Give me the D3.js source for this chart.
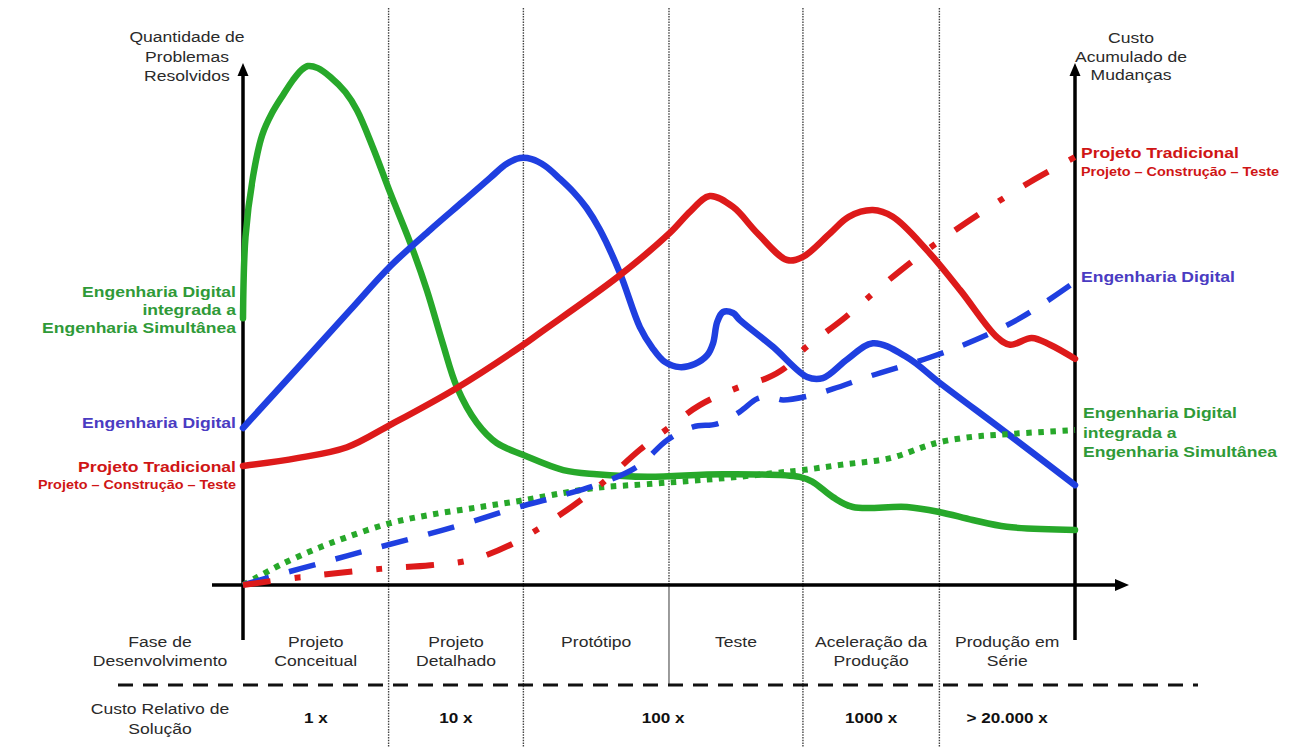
<!DOCTYPE html>
<html><head><meta charset="utf-8">
<script src="https://cdn.jsdelivr.net/npm/d3@7"></script>
<style>body{margin:0;background:#fff}svg{display:block}</style>
</head><body><svg id="c" width="1305" height="747"></svg>
<script>
// ---- DATA (x: development progress 0..100, y: relative level 0..100) ----
const phaseNames = [["Projeto","Conceitual"],["Projeto","Detalhado"],["Protótipo"],["Teste"],["Aceleração da","Produção"],["Produção em","Série"]];
const phaseBounds = [0, 17.5, 33.7, 51.2, 67.3, 83.7, 100];
const costLabels = ["1 x", "10 x", "100 x", "1000 x", "> 20.000 x"];
const costBounds = [0, 17.5, 33.7, 67.3, 83.7, 100];

// Quantidade de problemas resolvidos (solid curves)
const problemsSimultanea = [[0,51.3],[0.3,66.9],[1.2,78.5],[2.3,86.5],[3.5,90.8],[4.8,94.2],[6.0,97.1],[7.0,99.0],[7.8,99.8],[9.0,99.4],[10.5,97.7],[12.3,94.8],[13.7,91.3],[15.6,84.2],[17.7,75.4],[20.1,65.8],[22.1,56.7],[24.0,46.5],[25.7,38.1],[28.1,31.2],[30.5,27.3],[33.7,25.0],[38.5,22.1],[42.5,21.3],[48.6,20.8],[57.7,21.3],[66.9,20.8],[68.5,19.8],[70.9,16.9],[73.3,15.0],[79.8,15.0],[83.8,14.0],[87.7,12.5],[91.8,11.2],[100,10.6]];
const problemsDigital = [[0,30.2],[6.9,42.3],[12.9,52.9],[17.7,61.3],[22.5,68.3],[26.4,73.7],[29.7,78.3],[31.7,81.0],[33.3,82.1],[34.7,81.9],[36.3,80.6],[38.1,78.1],[39.7,75.6],[41.3,72.5],[42.9,68.3],[45.3,60.0],[47.7,49.6],[49.2,45.6],[50.7,42.9],[52.5,41.9],[54.3,42.5],[55.8,44.2],[56.5,46.5],[57.0,50.6],[57.7,52.5],[58.9,52.3],[59.7,51.0],[63.7,45.8],[67.8,40.0],[69.7,39.8],[72.7,43.5],[75.7,46.5],[79.8,43.8],[83.8,38.8],[91.8,29.2],[100,19.2]];
const problemsTradicional = [[0,22.9],[6.5,24.4],[12.5,26.5],[17.7,30.8],[25.7,37.9],[33.7,46.2],[35.7,48.5],[45.0,59.2],[51.3,67.7],[53.8,71.9],[56.1,74.8],[58.9,72.7],[61.8,67.7],[65.4,62.5],[67.3,63.1],[70.6,67.7],[72.8,70.8],[75.7,72.1],[78.1,70.8],[82.2,64.4],[86.2,56.7],[90.6,47.7],[92.2,46.2],[94.8,47.5],[97.0,46.2],[100,43.5]];

// Custo acumulado de mudanças (broken curves)
const costTradicional = [[0,0],[6.9,1.5],[16.5,3.1],[22.5,3.8],[27.3,4.8],[32.1,7.7],[38.1,13.5],[42.9,19.2],[47.7,26.0],[51.3,30.4],[54.9,34.6],[59.7,38.1],[63.0,39.8],[65.1,41.7],[67.3,45.2],[72.4,51.5],[76.9,57.7],[82.2,64.4],[89.2,72.1],[94.6,77.5],[100,82.3]];
const costDigital = [[0,0],[3.2,1.5],[9.3,4.2],[15.0,6.7],[20.9,9.2],[26.9,11.9],[32.7,14.8],[38.5,17.3],[44.1,20.2],[47.7,23.1],[51.0,27.9],[54.1,30.4],[57.0,31.0],[59.7,33.3],[61.8,35.8],[63.3,36.2],[64.9,35.6],[67.8,36.3],[70.9,37.7],[75.4,40.2],[82.6,43.8],[88.0,47.1],[93.6,51.5],[100,58.3]];
const costSimultanea = [[0,0],[1.7,1.5],[4.4,3.8],[8.4,6.7],[12.5,9.2],[17.7,11.9],[22.5,13.5],[28.5,15.0],[33.7,16.3],[38.5,17.7],[42.5,18.7],[48.6,19.4],[58.2,20.6],[63.7,21.5],[67.3,22.1],[71.8,23.1],[77.8,24.4],[81.7,26.5],[83.8,27.5],[87.7,28.5],[91.8,29.0],[100,29.8]];

// ---- DRAWING ----
const svg = d3.select("#c");
const x = d3.scaleLinear().domain([0,100]).range([243,1075]);
const y = d3.scaleLinear().domain([0,100]).range([585,65]);
const FONT = "'Liberation Sans', Arial, Helvetica, sans-serif";
const RED = "#dd1a1a", BLUE = "#1f3fe0", GREEN = "#27a82a";
const LRED = "#cf1515", LBLUE = "#4a3cc2", LGREEN = "#2f9a38";
const TXT = "#2a2a2a";

svg.append("rect").attr("width",1305).attr("height",747).attr("fill","#fff");

function txt(xp, yp, s, o) {
  svg.append("text")
    .attr("transform", `translate(${xp},${yp}) scale(${o.sx||1},1)`)
    .attr("text-anchor", o.anchor || "middle")
    .attr("font-family", FONT)
    .attr("font-size", o.size || 15)
    .attr("font-weight", o.weight || "normal")
    .attr("fill", o.fill || TXT)
    .text(s);
}
const REG = {size:15, sx:1.17, fill:TXT};

// vertical phase dividers
const divG = svg.append("g");
phaseBounds.slice(1,-1).forEach(b => {
  const isProtoTeste = b === 51.2;
  divG.append("line").attr("x1",x(b)).attr("x2",x(b))
    .attr("y1",8).attr("y2", isProtoTeste ? y(0) : 747)
    .attr("stroke","#444").attr("stroke-width",1.4).attr("stroke-dasharray","1.5,1.2");
  if (isProtoTeste) {
    divG.append("line").attr("x1",x(b)).attr("x2",x(b))
      .attr("y1",y(0)).attr("y2",685)
      .attr("stroke","#666").attr("stroke-width",1.3);
  }
});

// horizontal dashed separator
svg.append("line").attr("x1",118).attr("x2",1198).attr("y1",685).attr("y2",685)
  .attr("stroke","#111").attr("stroke-width",3).attr("stroke-dasharray","15,10");

// axes
const axG = svg.append("g").attr("fill","#000").attr("stroke","#000");
axG.append("line").attr("x1",212).attr("x2",1118).attr("y1",y(0)).attr("y2",y(0)).attr("stroke-width",3.5);
axG.append("path").attr("stroke","none").attr("d",`M1129,${y(0)} L1115,${y(0)-6} L1115,${y(0)+6} Z`);
[0,100].forEach(v => {
  axG.append("line").attr("x1",x(v)).attr("x2",x(v)).attr("y1",640).attr("y2",y(100)+8).attr("stroke-width",3.5);
  axG.append("path").attr("stroke","none").attr("d",`M${x(v)},${y(100)-2} L${x(v)-5.5},${y(100)+11} L${x(v)+5.5},${y(100)+11} Z`);
});

// curves
const line = d3.line().x(d => x(d[0])).y(d => y(d[1])).curve(d3.curveCatmullRom.alpha(0.5));
const curves = [
  {data: problemsSimultanea, color: GREEN, dash: null, w: 6.5},
  {data: problemsDigital, color: BLUE, dash: null, w: 6.5},
  {data: problemsTradicional, color: RED, dash: null, w: 6.5},
  {data: costSimultanea, color: GREEN, dash: "5.5,6.5", w: 6},
  {data: costDigital, color: BLUE, dash: "27,21", w: 5.5},
  {data: costTradicional, color: RED, dash: "28,24,6,24", w: 6}
];
curves.forEach(c => {
  svg.append("path").attr("d", line(c.data)).attr("fill","none")
    .attr("stroke", c.color).attr("stroke-width", c.w)
    .attr("stroke-linecap", c.dash ? "butt" : "round").attr("stroke-linejoin","round")
    .attr("stroke-dasharray", c.dash);
});

// axis titles
txt(187, 42, "Quantidade de", REG);
txt(187, 62, "Problemas", REG);
txt(187, 81, "Resolvidos", REG);
txt(1131, 43, "Custo", REG);
txt(1131, 62, "Acumulado de", REG);
txt(1131, 80, "Mudanças", REG);

// series labels left
const B = {size:15, weight:"bold", sx:1.17};
const S = {size:12, weight:"bold", sx:1.2};
txt(236, 297, "Engenharia Digital", {...B, anchor:"end", fill:LGREEN});
txt(236, 315, "integrada a", {...B, anchor:"end", fill:LGREEN});
txt(236, 333, "Engenharia Simultânea", {...B, anchor:"end", fill:LGREEN});
txt(236, 428, "Engenharia Digital", {...B, anchor:"end", fill:LBLUE});
txt(236, 472, "Projeto Tradicional", {...B, anchor:"end", fill:LRED});
txt(236, 489, "Projeto – Construção – Teste", {...S, anchor:"end", fill:LRED});

// series labels right
txt(1081, 158, "Projeto Tradicional", {...B, anchor:"start", fill:LRED});
txt(1081, 176, "Projeto – Construção – Teste", {...S, anchor:"start", fill:LRED});
txt(1081, 282, "Engenharia Digital", {...B, anchor:"start", fill:LBLUE});
txt(1083, 418, "Engenharia Digital", {...B, anchor:"start", fill:LGREEN});
txt(1083, 438, "integrada a", {...B, anchor:"start", fill:LGREEN});
txt(1083, 457, "Engenharia Simultânea", {...B, anchor:"start", fill:LGREEN});

// phase row
txt(160, 647, "Fase de", REG);
txt(160, 666, "Desenvolvimento", REG);
phaseNames.forEach((lines, i) => {
  const cx = x((phaseBounds[i] + phaseBounds[i+1]) / 2);
  lines.forEach((s, j) => txt(cx, 647 + j*19, s, REG));
});

// cost row
txt(160, 714, "Custo Relativo de", REG);
txt(160, 734, "Solução", REG);
costLabels.forEach((s, i) => {
  const cx = x((costBounds[i] + costBounds[i+1]) / 2);
  txt(cx, 723, s, {size:14.5, weight:"bold", sx:1.18, fill:"#111"});
});
</script>
</body></html>
